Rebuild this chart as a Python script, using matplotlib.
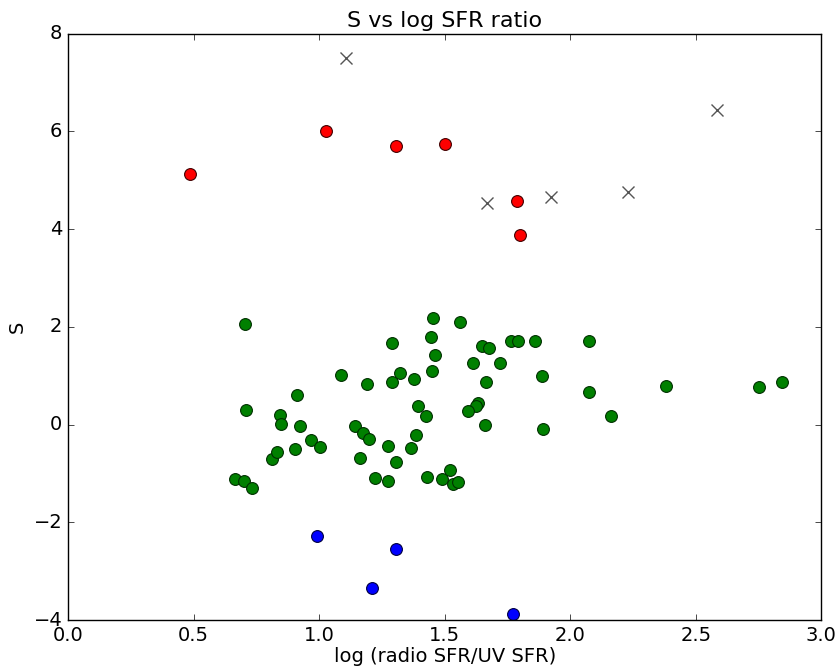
import matplotlib
matplotlib.use("Agg")
import matplotlib.pyplot as plt

plt.style.use("classic")

green_x = [0.703, 0.709, 0.665, 0.701, 0.733, 0.812, 0.831, 0.845, 0.850, 0.911,
           0.925, 0.903, 0.968, 1.002, 1.086, 1.142, 1.174, 1.199, 1.161, 1.189,
           1.222, 1.275, 1.275, 1.307, 1.289, 1.289, 1.320, 1.377, 1.392, 1.425,
           1.386, 1.364, 1.429, 1.454, 1.445, 1.462, 1.449, 1.562, 1.649, 1.675,
           1.613, 1.722, 1.763, 1.793, 1.858, 2.076, 1.666, 1.888, 2.076, 2.383,
           2.750, 2.845, 1.633, 1.623, 1.591, 1.661, 1.892, 2.161, 1.490, 1.520,
           1.533, 1.553]
green_y = [2.05, 0.30, -1.12, -1.15, -1.30, -0.71, -0.56, 0.19, 0.02, 0.61,
           -0.03, -0.51, -0.31, -0.46, 1.02, -0.03, -0.17, -0.29, -0.68, 0.83,
           -1.10, -1.15, -0.44, -0.76, 1.66, 0.86, 1.06, 0.93, 0.37, 0.17,
           -0.22, -0.48, -1.07, 2.17, 1.79, 1.42, 1.10, 2.10, 1.61, 1.56,
           1.25, 1.25, 1.71, 1.71, 1.71, 1.71, 0.88, 1.00, 0.66, 0.78,
           0.76, 0.86, 0.45, 0.37, 0.27, -0.02, -0.10, 0.17, -1.12, -0.93,
           -1.21, -1.17]

red_x = [0.486, 1.026, 1.306, 1.500, 1.786, 1.800]
red_y = [5.13, 6.01, 5.69, 5.74, 4.57, 3.87]

blue_x = [0.992, 1.307, 1.210, 1.774]
blue_y = [-2.29, -2.54, -3.34, -3.88]

cross_x = [1.106, 1.670, 1.922, 2.230, 2.585]
cross_y = [7.49, 4.54, 4.66, 4.76, 6.44]

xticks = [0.0, 0.5, 1.0, 1.5, 2.0, 2.5, 3.0]
yticks = [-4, -2, 0, 2, 4, 6, 8]

fig = plt.figure(figsize=(8.37, 6.70), dpi=100, facecolor="white")
ax = fig.add_axes([0.0813, 0.0746, 0.9000, 0.8754])

ax.plot(green_x, green_y, "o", color="green", markersize=8.5, markeredgecolor="#003000", markeredgewidth=0.8)
ax.plot(red_x, red_y, "o", color="red", markersize=8.5, markeredgecolor="#400000", markeredgewidth=0.8)
ax.plot(blue_x, blue_y, "o", color="blue", markersize=8.5, markeredgecolor="#000040", markeredgewidth=0.8)
ax.plot(cross_x, cross_y, "x", color="#555555", markersize=8, markeredgewidth=1.0)

ax.set_xlim(0, 3.0)
ax.set_ylim(-4, 8)
ax.set_xticks(xticks)
ax.set_yticks(yticks)
ax.tick_params(labelsize=14)
ax.set_title("S vs log SFR ratio", fontsize=16)
ax.set_xlabel("log (radio SFR/UV SFR)", fontsize=14, labelpad=2)
ax.set_ylabel("S", fontsize=14)

fig.savefig("out.png", dpi=100, facecolor="white")
